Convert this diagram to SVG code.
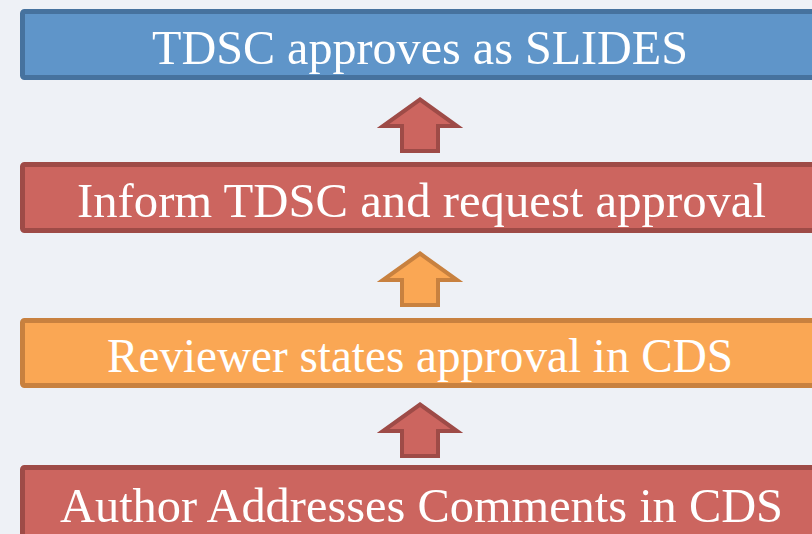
<svg xmlns="http://www.w3.org/2000/svg" xmlns:xlink="http://www.w3.org/1999/xlink" width="812" height="534" viewBox="0 0 812 534">
<style>
.box{stroke-width:5}
.blue{fill:#5f95c9;stroke:#46729e}
.red{fill:#cc655f;stroke:#9e4b47}
.orange{fill:#faa754;stroke:#c8813f}
.lbl{font-family:"Liberation Serif","Times New Roman",serif;font-size:48px;fill:#ffffff;text-anchor:middle}
.arr{stroke-width:4;stroke-linejoin:miter}
</style>
<defs>
<path id="up" d="M420,99.5 L457,126 L438,126 L438,151 L402,151 L402,126 L383,126 Z"/>
</defs>
<rect width="812" height="534" fill="#eef1f6"/>
<g id="node-tdsc-approves">
<rect class="box blue" x="22.5" y="11.5" width="820" height="66" rx="2"/>
<text class="lbl" x="420" y="64" textLength="536" lengthAdjust="spacingAndGlyphs">TDSC approves as SLIDES</text>
</g>
<g id="node-inform-tdsc">
<rect class="box red" x="22.5" y="164.5" width="820" height="66" rx="2"/>
<text class="lbl" x="421.5" y="217" textLength="689" lengthAdjust="spacingAndGlyphs">Inform TDSC and request approval</text>
</g>
<g id="node-reviewer">
<rect class="box orange" x="22.5" y="320.5" width="820" height="65" rx="2"/>
<text class="lbl" x="420" y="372" textLength="626" lengthAdjust="spacingAndGlyphs">Reviewer states approval in CDS</text>
</g>
<g id="node-author">
<rect class="box red" x="22.5" y="467.5" width="820" height="90" rx="2"/>
<text class="lbl" x="421.5" y="522" textLength="723" lengthAdjust="spacingAndGlyphs">Author Addresses Comments in CDS</text>
</g>
<g id="connectors">
<use xlink:href="#up" class="arr red"/>
<use xlink:href="#up" class="arr orange" transform="translate(0,154)"/>
<use xlink:href="#up" class="arr red" transform="translate(0,305)"/>
</g>
</svg>
